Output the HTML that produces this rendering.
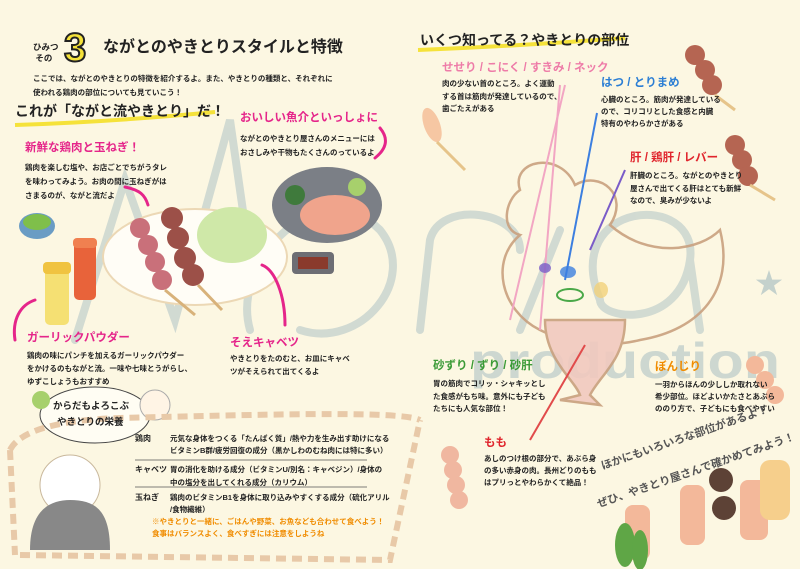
<!DOCTYPE html>
<html><head><meta charset="utf-8"><style>
body{margin:0}
#p{position:relative;width:800px;height:569px;overflow:hidden;background:#fcf7e2;font-family:"Liberation Sans","Noto Sans CJK JP",sans-serif;font-weight:bold;color:#222}
.t{position:absolute;white-space:nowrap;line-height:1}
.b{font-size:7.5px}
.h{font-size:11.5px}
.pk{color:#e5258a}
</style></head><body><div id="p">
<svg width="800" height="569" style="position:absolute;left:0;top:0">
 <!-- watermark -->
 <g fill="none" stroke="#9fb8bf" stroke-width="8" opacity=".45" stroke-linecap="round">
  <path d="M75 340 L125 180 L175 320 L230 120 L250 260"/>
  <path d="M250 330 C230 260 320 170 380 230 C420 280 360 350 300 330"/>
  <path d="M420 330 L430 240 C440 200 520 210 520 250"/>
  <path d="M520 330 L560 230"/>
  <path d="M600 300 C560 200 700 190 690 260 C680 330 600 320 600 300 M690 260 L700 330"/>
 </g>
 <text x="470" y="378" font-family="Liberation Sans" font-size="50" fill="#9fb8bf" opacity=".5" textLength="310" lengthAdjust="spacingAndGlyphs">production</text>
 <text x="755" y="293" font-size="28" fill="#9fb8bf" opacity=".6">★</text>
 <!-- chicken -->
 <g fill="none" stroke="#c9a07e" stroke-width="2.5" opacity=".9">
  <path d="M520 190 C510 160 560 150 575 185 C600 170 630 195 610 225 C650 260 700 250 720 230 C735 290 700 330 640 340 C600 350 560 340 540 330 C500 310 490 260 520 235 C500 230 505 200 520 190Z"/>
  <path d="M545 320 C545 360 575 380 580 395 L560 400 L600 405 L590 395 C600 375 625 360 625 320Z" fill="#f1c9bf"/>
 </g>
 <!-- pointer lines -->
 <g stroke-width="2" fill="none">
  <line x1="565" y1="85" x2="510" y2="320" stroke="#f2a6c3"/>
  <line x1="560" y1="85" x2="540" y2="330" stroke="#f2a6c3"/>
  <line x1="597" y1="113" x2="565" y2="280" stroke="#3c7fe0"/>
  <line x1="625" y1="170" x2="590" y2="250" stroke="#7a5cc8"/>
  <line x1="585" y1="345" x2="530" y2="440" stroke="#e14b4b"/>
 </g>
 <ellipse cx="568" cy="272" rx="8" ry="6" fill="#3c7fe0" opacity=".8"/>
 <ellipse cx="545" cy="268" rx="6" ry="5" fill="#7a5cc8" opacity=".8"/>
 <ellipse cx="570" cy="295" rx="13" ry="6" fill="none" stroke="#4aa848" stroke-width="2"/>
 <ellipse cx="601" cy="290" rx="7" ry="8" fill="#f1d17a" opacity=".8"/>
 <!-- left illustrations -->
 <ellipse cx="195" cy="257" rx="92" ry="48" fill="#fffdf6" stroke="#ecd8b5" stroke-width="2"/>
 <g fill="#c9707a"><circle cx="140" cy="228" r="10"/><circle cx="148" cy="245" r="10"/><circle cx="155" cy="262" r="10"/><circle cx="162" cy="280" r="10"/></g>
 <g fill="#9c5048"><circle cx="172" cy="218" r="11"/><circle cx="178" cy="238" r="11"/><circle cx="185" cy="258" r="11"/><circle cx="193" cy="275" r="11"/></g>
 <line x1="165" y1="290" x2="195" y2="315" stroke="#d8b27a" stroke-width="3"/>
 <line x1="198" y1="285" x2="222" y2="310" stroke="#d8b27a" stroke-width="3"/>
 <ellipse cx="232" cy="235" rx="35" ry="28" fill="#cfe8a8"/>
 <ellipse cx="327" cy="205" rx="55" ry="38" fill="#7b7f86"/>
 <ellipse cx="335" cy="215" rx="35" ry="20" fill="#f0a48c"/>
 <circle cx="295" cy="195" r="10" fill="#3f7a3c"/><circle cx="357" cy="187" r="9" fill="#a7d06c"/>
 <rect x="292" y="252" width="42" height="22" rx="4" fill="#6d6e74"/><rect x="298" y="257" width="30" height="12" fill="#8a3a2c"/>
 <ellipse cx="37" cy="226" rx="18" ry="13" fill="#6a9cc4"/><ellipse cx="37" cy="222" rx="14" ry="8" fill="#7fbf4a"/>
 <rect x="45" y="265" width="24" height="60" rx="5" fill="#f5e073"/><rect x="43" y="262" width="28" height="12" rx="4" fill="#f0c340"/>
 <rect x="74" y="240" width="22" height="60" rx="5" fill="#e8633a"/><rect x="73" y="238" width="24" height="10" rx="4" fill="#f08050"/>
 <!-- pink arrows -->
 <g fill="none" stroke="#e5258a" stroke-width="3" stroke-linecap="round">
  <path d="M125 187 C140 190 145 195 148 205"/>
  <path d="M380 128 C390 140 385 150 375 158"/>
  <path d="M285 325 C285 295 275 270 262 265"/>
  <path d="M15 340 C12 320 20 305 35 300"/>
 </g>
 <!-- yellow underlines -->
 <path d="M15 125 Q110 122 215 112" stroke="#f5e23a" stroke-width="4" fill="none"/>
 <path d="M418 50 Q520 46 625 38" stroke="#f5e23a" stroke-width="4" fill="none"/>
 <!-- nutrition oval & frame -->
 <ellipse cx="95" cy="415" rx="55" ry="28" fill="#fffdf3" stroke="#444" stroke-width="1"/>
 <circle cx="41" cy="400" r="9" fill="#a7d06c"/>
 <circle cx="155" cy="405" r="15" fill="#fff4e5" stroke="#aaa"/>
 <path d="M10 450 C20 430 60 420 120 418 C250 415 400 410 420 420 M10 450 L15 555 M20 555 L390 560 L420 420" stroke="#e8c9a8" stroke-width="6" fill="none" stroke-dasharray="10 6"/>
 <circle cx="70" cy="485" r="30" fill="#fff" stroke="#c9b89c"/>
 <path d="M30 550 C30 510 50 500 70 500 C95 500 110 510 110 550Z" fill="#888"/>
 <line x1="135" y1="460" x2="367" y2="460" stroke="#555" stroke-width=".7"/>
 <line x1="135" y1="487" x2="367" y2="487" stroke="#555" stroke-width=".7"/>
 <!-- right skewers -->
 <g fill="#b56552"><circle cx="695" cy="55" r="10"/><circle cx="705" cy="70" r="10"/><circle cx="712" cy="85" r="10"/></g>
 <line x1="715" y1="95" x2="735" y2="110" stroke="#e6c48a" stroke-width="3"/>
 <g fill="#b56552"><circle cx="735" cy="145" r="10"/><circle cx="742" cy="160" r="10"/><circle cx="748" cy="176" r="10"/></g>
 <line x1="750" y1="185" x2="775" y2="200" stroke="#e6c48a" stroke-width="3"/>
 <ellipse cx="432" cy="125" rx="8" ry="18" fill="#f6c7a3" transform="rotate(-20 432 125)"/>
 <line x1="437" y1="142" x2="465" y2="170" stroke="#e6c48a" stroke-width="3"/>
 <g fill="#f0b7a0"><circle cx="450" cy="455" r="9"/><circle cx="453" cy="470" r="9"/><circle cx="456" cy="485" r="9"/><circle cx="459" cy="500" r="9"/></g>
 <g fill="#5d4236"><circle cx="721" cy="480" r="12"/><circle cx="724" cy="508" r="12"/></g>
 <g fill="#f3b89a"><rect x="680" y="485" width="25" height="60" rx="8"/><rect x="740" y="480" width="28" height="60" rx="8"/><rect x="625" y="505" width="25" height="55" rx="8"/></g>
 <g fill="#5fa646"><ellipse cx="625" cy="545" rx="10" ry="22"/><ellipse cx="640" cy="550" rx="8" ry="20"/></g>
 <rect x="760" y="460" width="30" height="60" rx="10" fill="#f6cf8c"/>
 <g fill="#f3b89a"><circle cx="755" cy="365" r="9"/><circle cx="765" cy="380" r="9"/><circle cx="775" cy="395" r="9"/></g>
</svg>

<div class="t" style="left:33px;top:42px;font-size:8.5px;line-height:11px">ひみつ<br>&nbsp;その</div>
<div class="t" style="left:64px;top:28px;font-size:40px;color:#f5e23a;-webkit-text-stroke:2px #222;font-family:'Liberation Sans',sans-serif">3</div>
<div class="t" style="left:103px;top:40px;font-size:16px">ながとのやきとりスタイルと特徴</div>
<div class="t b" style="left:33px;top:75px">ここでは、ながとのやきとりの特徴を紹介するよ。また、やきとりの種類と、それぞれに</div>
<div class="t b" style="left:33px;top:89px">使われる鶏肉の部位についても見ていこう！</div>
<div class="t" style="left:15px;top:104px;font-size:14px">これが「ながと流やきとり」だ！</div>

<div class="t h pk" style="left:25px;top:143px">新鮮な鶏肉と玉ねぎ！</div>
<div class="t b" style="left:25px;top:164px">鶏肉を楽しむ塩や、お店ごとでちがうタレ</div>
<div class="t b" style="left:25px;top:178px">を味わってみよう。お肉の間に玉ねぎがは</div>
<div class="t b" style="left:25px;top:192px">さまるのが、ながと流だよ</div>

<div class="t h pk" style="left:240px;top:113px">おいしい魚介といっしょに</div>
<div class="t b" style="left:240px;top:135px">ながとのやきとり屋さんのメニューには</div>
<div class="t b" style="left:240px;top:149px">おさしみや干物もたくさんのっているよ</div>

<div class="t h pk" style="left:27px;top:333px">ガーリックパウダー</div>
<div class="t b" style="left:27px;top:352px">鶏肉の味にパンチを加えるガーリックパウダー</div>
<div class="t b" style="left:27px;top:365px">をかけるのもながと流。一味や七味とうがらし、</div>
<div class="t b" style="left:27px;top:378px">ゆずこしょうもおすすめ</div>

<div class="t h pk" style="left:230px;top:338px">そえキャベツ</div>
<div class="t b" style="left:230px;top:355px">やきとりをたのむと、お皿にキャベ</div>
<div class="t b" style="left:230px;top:368px">ツがそえられて出てくるよ</div>

<div class="t" style="left:53px;top:402px;font-size:9.5px">からだもよろこぶ</div>
<div class="t" style="left:57px;top:418px;font-size:9.5px">やきとりの栄養</div>

<div class="t b" style="left:135px;top:435px;font-size:8px">鶏肉</div>
<div class="t b" style="left:170px;top:435px">元気な身体をつくる「たんぱく質」/熱や力を生み出す助けになる</div>
<div class="t b" style="left:170px;top:447px">ビタミンB群/疲労回復の成分（黒かしわのむね肉には特に多い）</div>
<div class="t b" style="left:135px;top:466px;font-size:8px">キャベツ</div>
<div class="t b" style="left:170px;top:466px">胃の消化を助ける成分（ビタミンU/別名：キャベジン）/身体の</div>
<div class="t b" style="left:170px;top:479px">中の塩分を出してくれる成分（カリウム）</div>
<div class="t b" style="left:135px;top:494px;font-size:8px">玉ねぎ</div>
<div class="t b" style="left:170px;top:494px">鶏肉のビタミンB1を身体に取り込みやすくする成分（硫化アリル</div>
<div class="t b" style="left:170px;top:506px">/食物繊維）</div>
<div class="t b" style="left:152px;top:518px;color:#f08c00">※やきとりと一緒に、ごはんや野菜、お魚なども合わせて食べよう！</div>
<div class="t b" style="left:152px;top:530px;color:#f08c00">食事はバランスよく、食べすぎには注意をしようね</div>

<div class="t" style="left:420px;top:33px;font-size:14px">いくつ知ってる？やきとりの部位</div>
<div class="t h" style="left:442px;top:63px;color:#ee7ca8">せせり / こにく / すきみ / ネック</div>
<div class="t b" style="left:442px;top:80px">肉の少ない首のところ。よく運動</div>
<div class="t b" style="left:442px;top:93px">する首は筋肉が発達しているので、</div>
<div class="t b" style="left:442px;top:105px">歯ごたえがある</div>

<div class="t h" style="left:601px;top:78px;color:#2b7ed4">はつ / とりまめ</div>
<div class="t b" style="left:601px;top:96px">心臓のところ。筋肉が発達している</div>
<div class="t b" style="left:601px;top:108px">ので、コリコリとした食感と内臓</div>
<div class="t b" style="left:601px;top:120px">特有のやわらかさがある</div>

<div class="t h" style="left:630px;top:153px;color:#e0242c">肝 / 鶏肝 / レバー</div>
<div class="t b" style="left:630px;top:172px">肝臓のところ。ながとのやきとり</div>
<div class="t b" style="left:630px;top:185px">屋さんで出てくる肝はとても新鮮</div>
<div class="t b" style="left:630px;top:197px">なので、臭みが少ないよ</div>

<div class="t h" style="left:433px;top:361px;color:#3a9a36">砂ずり / ずり / 砂肝</div>
<div class="t b" style="left:433px;top:380px">胃の筋肉でコリッ・シャキッとし</div>
<div class="t b" style="left:433px;top:393px">た食感がもち味。意外にも子ども</div>
<div class="t b" style="left:433px;top:405px">たちにも人気な部位！</div>

<div class="t h" style="left:655px;top:362px;color:#f08c00">ぼんじり</div>
<div class="t b" style="left:655px;top:381px">一羽からほんの少ししか取れない</div>
<div class="t b" style="left:655px;top:393px">希少部位。ほどよいかたさとあぶら</div>
<div class="t b" style="left:655px;top:405px">ののり方で、子どもにも食べやすい</div>

<div class="t h" style="left:484px;top:438px;color:#e0242c">もも</div>
<div class="t b" style="left:484px;top:455px">あしのつけ根の部分で、あぶら身</div>
<div class="t b" style="left:484px;top:467px">の多い赤身の肉。長州どりのもも</div>
<div class="t b" style="left:484px;top:479px">はプリっとやわらかくて絶品！</div>

<div class="t" style="left:600px;top:462px;font-size:11px;color:#555;transform:rotate(-19deg);transform-origin:0 0">ほかにもいろいろな部位があるよ！</div>
<div class="t" style="left:596px;top:500px;font-size:11px;color:#555;transform:rotate(-19deg);transform-origin:0 0">ぜひ、やきとり屋さんで確かめてみよう！</div>
</div></body></html>
